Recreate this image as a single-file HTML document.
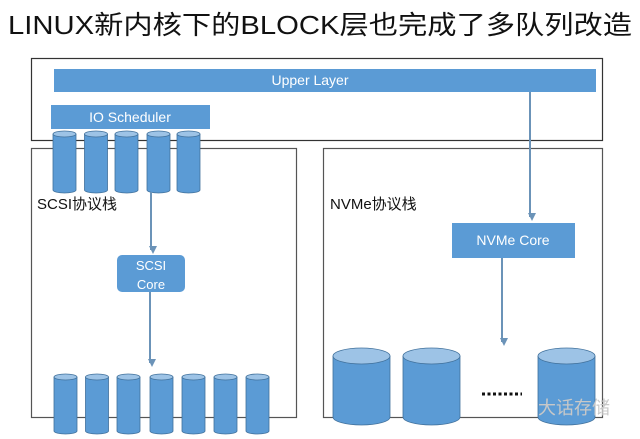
<!DOCTYPE html>
<html><head><meta charset="utf-8"><style>
html,body{margin:0;padding:0;background:#fff;}
svg{display:block;}
</style></head><body>
<svg width="640" height="439" viewBox="0 0 640 439" xmlns="http://www.w3.org/2000/svg" font-family="Liberation Sans, Noto Sans CJK SC, sans-serif">
<defs>
<marker id="ah" markerWidth="8" markerHeight="8" refX="4" refY="6" orient="auto" markerUnits="userSpaceOnUse"><path d="M0,0 L8,0 L4,8 z" fill="#6b93b8" transform="rotate(-90 4 4)"/></marker>
</defs>
<text x="8" y="34" font-size="26" textLength="624" lengthAdjust="spacingAndGlyphs" fill="#111">LINUX新内核下的BLOCK层也完成了多队列改造</text>
<rect x="31.5" y="58.5" width="571" height="82" fill="none" stroke="#333" stroke-width="1.2"/>
<rect x="31.5" y="148.5" width="265" height="269" fill="none" stroke="#555" stroke-width="1.2"/>
<rect x="323.5" y="148.5" width="279" height="269" fill="none" stroke="#555" stroke-width="1.2"/>
<rect x="54" y="69" width="542" height="23" fill="#5b9bd5"/>
<text x="310" y="85" font-size="14" fill="#fff" text-anchor="middle">Upper Layer</text>
<rect x="51" y="105" width="159" height="24" fill="#5b9bd5"/>
<text x="130" y="122" font-size="14" fill="#fff" text-anchor="middle">IO Scheduler</text>
<g fill="#5b9bd5" stroke="#41719c" stroke-width="0.8">
<g id="sc"><path d="M53,134 v56 a11.5,3 0 0 0 23,0 v-56"/><ellipse cx="64.5" cy="134" rx="11.5" ry="3" fill="#9dc3e6"/></g>
<use href="#sc" x="31.5"/><use href="#sc" x="62"/><use href="#sc" x="94"/><use href="#sc" x="124"/>
<g id="bc"><path d="M54,377 v54 a11.5,3 0 0 0 23,0 v-54"/><ellipse cx="65.5" cy="377" rx="11.5" ry="3" fill="#9dc3e6"/></g>
<use href="#bc" x="31.5"/><use href="#bc" x="63"/><use href="#bc" x="96"/><use href="#bc" x="128"/><use href="#bc" x="160"/><use href="#bc" x="192"/>
<g id="lc"><path d="M333,356 v61 a28.5,8 0 0 0 57,0 v-61"/><ellipse cx="361.5" cy="356" rx="28.5" ry="8" fill="#9dc3e6"/></g>
<use href="#lc" x="70"/><use href="#lc" x="205"/>
</g>
<text x="37" y="209" font-size="15" fill="#111">SCSI协议栈</text>
<text x="330" y="209" font-size="15" fill="#111">NVMe协议栈</text>
<g stroke="#6b93b8" stroke-width="2" fill="none">
<line x1="151" y1="192" x2="151" y2="250" marker-end="url(#ah)"/>
<line x1="150" y1="292" x2="150" y2="363" marker-end="url(#ah)"/>
<line x1="530" y1="92" x2="530" y2="217" marker-end="url(#ah)"/>
<line x1="502" y1="258" x2="502" y2="342" marker-end="url(#ah)"/>
</g>
<rect x="117" y="255" width="68" height="37" rx="5" fill="#5b9bd5"/>
<text x="151" y="270" font-size="13" fill="#fff" text-anchor="middle">SCSI</text>
<text x="151" y="289" font-size="13" fill="#fff" text-anchor="middle">Core</text>
<rect x="452" y="223" width="123" height="35" fill="#5b9bd5"/>
<text x="513" y="245" font-size="14" fill="#fff" text-anchor="middle">NVMe Core</text>
<line x1="482" y1="394" x2="522" y2="394" stroke="#111" stroke-width="3" stroke-dasharray="3,2.5"/>
<text x="538" y="414" font-size="18" fill="#c8c8c8">大话存储</text>
</svg>
</body></html>
